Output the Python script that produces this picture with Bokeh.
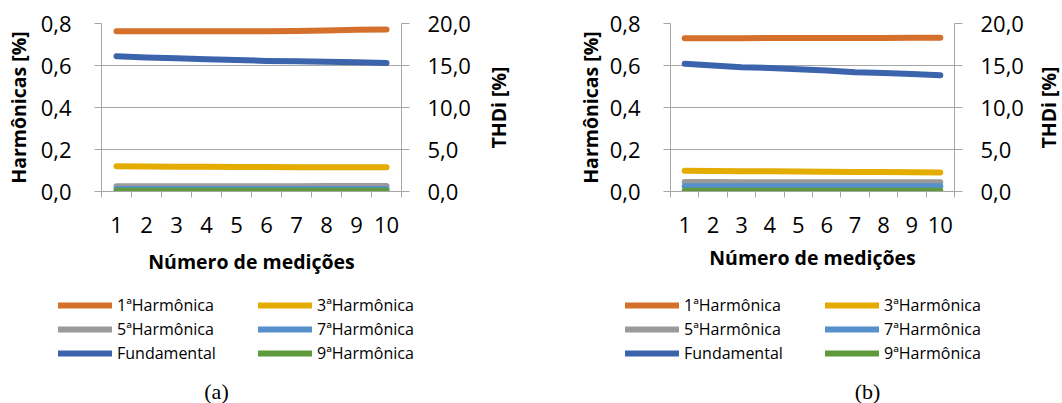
import math
from bokeh.plotting import figure
from bokeh.models import (Range1d, LinearAxis, FixedTicker, CustomJSTickFormatter,
                          Legend, LegendItem, Label)
from bokeh.core.properties import value
from bokeh.layouts import row, column
from bokeh.embed import file_html
from bokeh.resources import INLINE

# ---------------- data ----------------
medicoes = [1, 2, 3, 4, 5, 6, 7, 8, 9, 10]
x_labels = ["1", "2", "3", "4", "5", "6", "7", "8", "9", "10"]
y_left_ticks = [0.0, 0.2, 0.4, 0.6, 0.8]
y_right_ticks = [0.0, 5.0, 10.0, 15.0, 20.0]
series_names = ["1ªHarmônica", "3ªHarmônica", "5ªHarmônica", "7ªHarmônica", "9ªHarmônica", "Fundamental"]

# chart (a) - harmonics [%] (left axis) and fundamental/THDi [%] (right axis)
a_h1 = [0.763, 0.763, 0.763, 0.763, 0.763, 0.763, 0.764, 0.767, 0.770, 0.772]
a_h3 = [0.120, 0.119, 0.118, 0.118, 0.117, 0.117, 0.116, 0.116, 0.115, 0.115]
a_h5 = [0.025, 0.025, 0.025, 0.025, 0.025, 0.025, 0.025, 0.026, 0.026, 0.026]
a_h7 = [0.012, 0.012, 0.012, 0.012, 0.012, 0.012, 0.012, 0.012, 0.012, 0.012]
a_h9 = [0.003, 0.003, 0.003, 0.003, 0.003, 0.003, 0.003, 0.003, 0.003, 0.003]
a_fund = [16.1, 15.95, 15.85, 15.75, 15.65, 15.55, 15.5, 15.45, 15.4, 15.3]

# chart (b)
b_h1 = [0.730, 0.730, 0.730, 0.731, 0.731, 0.731, 0.731, 0.731, 0.732, 0.732]
b_h3 = [0.099, 0.098, 0.097, 0.096, 0.095, 0.094, 0.093, 0.093, 0.092, 0.091]
b_h5 = [0.045, 0.045, 0.044, 0.044, 0.044, 0.044, 0.044, 0.044, 0.044, 0.044]
b_h7 = [0.025, 0.025, 0.025, 0.025, 0.025, 0.025, 0.025, 0.025, 0.025, 0.025]
b_h9 = [0.004, 0.004, 0.004, 0.004, 0.004, 0.004, 0.004, 0.004, 0.004, 0.004]
b_fund = [15.2, 15.0, 14.8, 14.7, 14.55, 14.4, 14.2, 14.1, 14.0, 13.85]

right_title = "THDi [%]"

colors = ["#D46F2C", "#E4AB00", "#9A9A9A", "#5590CB", "#5F9A3D", "#3B64AD"]

GRID = "#A6A6A6"
FONT = "Open Sans"
TOP_H = 283


def add_lines(p, series, fund):
    rs = []
    for vals, c in zip(series, colors[:5]):
        rs.append(p.line(medicoes, vals, line_color=c, line_width=6, line_cap="round",
                         line_join="round"))
    rs.append(p.line(medicoes, fund, line_color=colors[5], line_width=6, line_cap="round",
                     line_join="round", y_range_name="thd"))
    return rs


def make_chart(series, fund, width, left, right, title_standoff, ylab_standoff):
    p = figure(width=width, height=TOP_H, x_range=Range1d(0.5, 10.5),
               y_range=Range1d(0, 0.8), output_backend="svg", toolbar_location=None,
               min_border_left=left, min_border_right=right, min_border_top=23,
               min_border_bottom=92, outline_line_color=None)
    p.extra_y_ranges = {"thd": Range1d(0, 20)}
    add_lines(p, series, fund)

    # x axis
    xa = p.xaxis[0]
    xa.ticker = FixedTicker(ticks=medicoes,
                            minor_ticks=[m - 0.5 for m in medicoes] + [10.5])
    xa.major_label_overrides = {m: l for m, l in zip(medicoes, x_labels)}
    xa.major_tick_out = 0
    xa.major_tick_in = 0
    xa.minor_tick_out = 6
    xa.minor_tick_in = 0
    xa.minor_tick_line_color = GRID
    xa.axis_line_color = GRID
    xa.major_label_text_font = FONT
    xa.major_label_text_font_size = "22px"
    xa.major_label_text_color = "black"
    xa.major_label_standoff = 19
    xa.axis_label = "Número de medições"
    xa.axis_label_text_font = FONT
    xa.axis_label_text_font_size = "19.5px"
    xa.axis_label_text_font_style = "bold"
    xa.axis_label_text_color = "black"
    xa.axis_label_standoff = title_standoff

    # left axis
    ya = p.yaxis[0]
    ya.ticker = FixedTicker(ticks=y_left_ticks)
    ya.formatter = CustomJSTickFormatter(code="return tick.toFixed(1).replace('.', ',');")
    ya.major_tick_out = 7
    ya.major_tick_in = 0
    ya.major_tick_line_color = GRID
    ya.minor_tick_line_color = None
    ya.axis_line_color = GRID
    ya.major_label_text_font = FONT
    ya.major_label_text_font_size = "22px"
    ya.major_label_text_color = "black"
    ya.major_label_standoff = 23
    ya.axis_label = "Harmônicas [%]"
    ya.axis_label_text_font = FONT
    ya.axis_label_text_font_size = "19.5px"
    ya.axis_label_text_font_style = "bold"
    ya.axis_label_text_color = "black"
    ya.axis_label_standoff = ylab_standoff

    # right axis (its title is drawn in a narrow panel to the right)
    ra = LinearAxis(y_range_name="thd", ticker=FixedTicker(ticks=y_right_ticks))
    ra.formatter = CustomJSTickFormatter(code="return tick.toFixed(1).replace('.', ',');")
    ra.major_tick_out = 8
    ra.major_tick_in = 0
    ra.major_tick_line_color = GRID
    ra.minor_tick_line_color = None
    ra.axis_line_color = GRID
    ra.major_label_text_font = FONT
    ra.major_label_text_font_size = "22px"
    ra.major_label_text_color = "black"
    ra.major_label_standoff = 18
    p.add_layout(ra, "right")

    p.xgrid.visible = False
    p.ygrid.ticker = FixedTicker(ticks=y_left_ticks)
    p.ygrid.grid_line_color = GRID
    return p


def make_title_panel(width, xfrac):
    # narrow panel whose frame matches the chart frame; title centred on the THDi axis
    t = figure(width=width, height=TOP_H, x_range=Range1d(0, 1), y_range=Range1d(0, 20),
               output_backend="svg", toolbar_location=None, min_border_left=0,
               min_border_right=0, min_border_top=23, min_border_bottom=92,
               x_axis_location=None, y_axis_location=None, outline_line_color=None)
    t.xgrid.visible = False
    t.ygrid.visible = False
    mid = (y_right_ticks[0] + y_right_ticks[-1]) / 2
    t.text(x=[xfrac], y=[mid], text=[right_title], angle=math.pi / 2,
           text_align="center", text_baseline="middle", text_font=value(FONT),
           text_font_size="19.5px", text_font_style="bold", text_color="black")
    return t


def make_legend_panel(series, fund, width, leg_x1, leg_x2, caption, cap_x):
    # panel under a chart: same lines (kept outside the visible range) feed the legend
    q = figure(width=width, height=120, x_range=Range1d(1000, 1100),
               y_range=Range1d(1000, 1100), output_backend="svg", toolbar_location=None,
               min_border=0, x_axis_location=None, y_axis_location=None,
               outline_line_color=None)
    q.extra_y_ranges = {"thd": Range1d(1000, 1100)}
    q.xgrid.visible = False
    q.ygrid.visible = False
    rs = add_lines(q, series, fund)
    col1 = [LegendItem(label=series_names[0], renderers=[rs[0]]),
            LegendItem(label=series_names[2], renderers=[rs[2]]),
            LegendItem(label=series_names[5], renderers=[rs[5]])]
    col2 = [LegendItem(label=series_names[1], renderers=[rs[1]]),
            LegendItem(label=series_names[3], renderers=[rs[3]]),
            LegendItem(label=series_names[4], renderers=[rs[4]])]
    for items, lx in ((col1, leg_x1), (col2, leg_x2)):
        lg = Legend(items=items, location=(lx, 39), orientation="vertical",
                    glyph_width=54, glyph_height=20, label_height=20, spacing=2,
                    label_standoff=5, padding=0, margin=0,
                    border_line_color=None, background_fill_alpha=0,
                    label_text_font=FONT, label_text_font_size="16px",
                    label_text_color="black")
        q.add_layout(lg, "center")
    cap = Label(x=cap_x, y=12, x_units="screen", y_units="screen", text=caption,
                text_align="center", text_baseline="alphabetic",
                text_font="Liberation Serif", text_font_size="22px", text_color="black")
    q.add_layout(cap)
    return q


pa = make_chart([a_h1, a_h3, a_h5, a_h7, a_h9], a_fund, 480, 101, 79, 12, 6)
ta = make_title_panel(40, 17.5 / 40)
pb = make_chart([b_h1, b_h3, b_h5, b_h7, b_h9], b_fund, 514, 150, 80, 8, 3)
tb = make_title_panel(28, 14 / 28)
la = make_legend_panel([a_h1, a_h3, a_h5, a_h7, a_h9], a_fund, 520, 58, 258, "(a)", 216)
lb = make_legend_panel([b_h1, b_h3, b_h5, b_h7, b_h9], b_fund, 542, 105, 305, "(b)", 347)

layout = column(row(pa, ta, pb, tb), row(la, lb))
open("out.html", "w").write(file_html(layout, INLINE))
